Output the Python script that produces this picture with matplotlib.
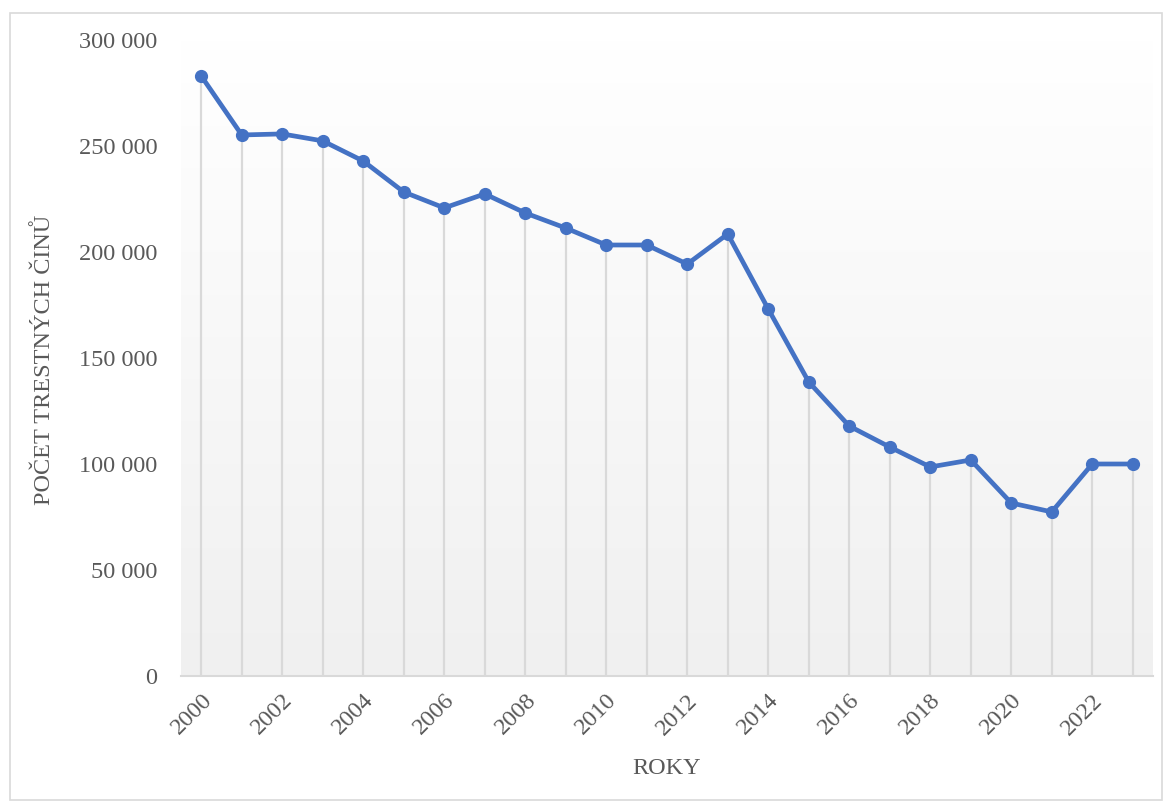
import matplotlib
matplotlib.use("Agg")
import matplotlib.pyplot as plt
import numpy as np
from matplotlib.patches import Rectangle
from matplotlib.ticker import FuncFormatter
from matplotlib.colors import LinearSegmentedColormap

years = list(range(2000, 2024))
values = [283000, 255200, 255700, 252400, 242900, 228300, 220800, 227400,
          218400, 211300, 203300, 203300, 194300, 208500, 173100, 138700,
          117900, 108000, 98600, 101900, 81600, 77400, 100000, 100000]
ytick_vals = [0, 50000, 100000, 150000, 200000, 250000, 300000]
xtick_years = list(range(2000, 2024, 2))
xlabel = "ROKY"
ylabel = "POČET TRESTNÝCH ČINŮ"

plt.rcParams['font.family'] = ['Liberation Serif', 'DejaVu Serif']
txt = '#595959'

fig = plt.figure(figsize=(11.73, 8.05), dpi=100)
fig.patch.set_facecolor('white')
ax = fig.add_axes([181/1173, (805-676)/805, (1153-181)/1173, (676-40)/805])

x = np.arange(len(years))
xmin, xmax = -0.5, len(years) - 0.5

# gradient background: white at top, light grey at bottom
grad = np.linspace(0, 1, 256).reshape(-1, 1)
cmap = LinearSegmentedColormap.from_list('g', ['#ffffff', '#f0f0f0'])
ax.imshow(grad, aspect='auto', cmap=cmap, extent=[xmin, xmax, 0, 300000],
          origin='upper', zorder=0)
ax.set_xlim(xmin, xmax)
ax.set_ylim(0, 300000)

ax.vlines(x, 0, values, colors='#d9d9d9', linewidth=1.6, zorder=1)
ax.plot(x, values, color='#4472C4', linewidth=3.4, marker='o', markersize=8.5,
        markerfacecolor='#4472C4', markeredgecolor='#4472C4', zorder=3)

for s in ['top', 'right', 'left']:
    ax.spines[s].set_visible(False)
ax.spines['bottom'].set_color('#d9d9d9')
ax.spines['bottom'].set_linewidth(1.5)

ax.set_yticks(ytick_vals)
ax.yaxis.set_major_formatter(FuncFormatter(lambda v, p: f"{int(v):,}".replace(",", " ")))
ax.set_xticks([years.index(y) for y in xtick_years])
ax.set_xticklabels([str(y) for y in xtick_years], rotation=45, ha='right',
                   rotation_mode='anchor')
ax.tick_params(axis='both', length=0, labelsize=17.5, labelcolor=txt)
ax.tick_params(axis='y', pad=17)
ax.tick_params(axis='x', pad=10)

fig.text(667/1173, 1 - 768/805, xlabel, ha='center', va='center', fontsize=17.5, color=txt)
fig.text(45/1173, 1 - 360/805, ylabel, ha='center', va='center', rotation=90,
         fontsize=17.5, color=txt)

fig.patches.append(Rectangle((10/1173, 1 - 800/805), 1152/1173, 787/805,
                             transform=fig.transFigure, fill=False,
                             edgecolor='#d9d9d9', linewidth=1.2))

fig.savefig('out.png', dpi=100)
